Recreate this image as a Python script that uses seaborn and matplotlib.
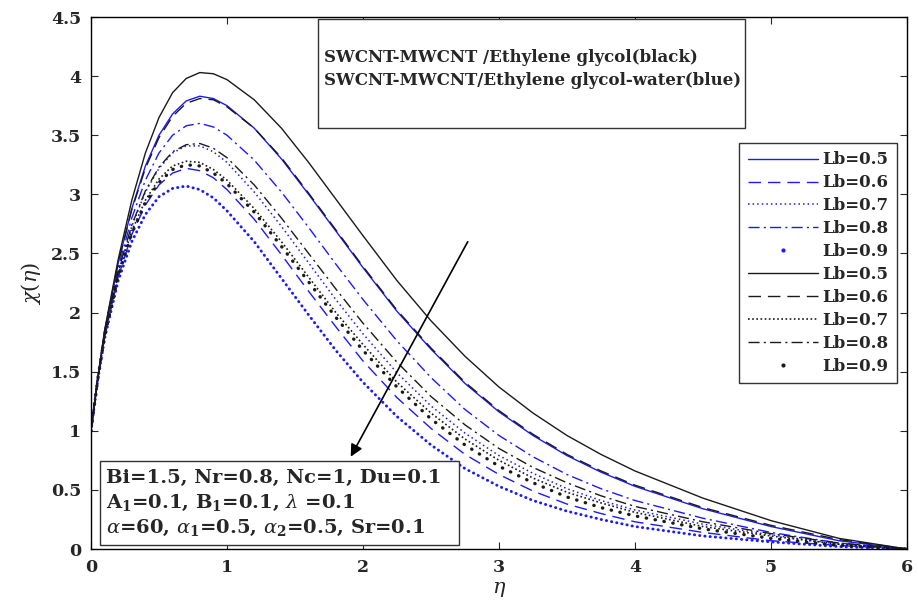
import matplotlib
matplotlib.use("Agg")
import matplotlib.pyplot as plt
from matplotlib.patches import Rectangle
from matplotlib.lines import Line2D
import seaborn as sns

eta = [0, 0.05, 0.1, 0.2, 0.3, 0.4, 0.5, 0.6, 0.7, 0.8, 0.9, 1.0, 1.2, 1.4, 1.6, 1.8,
       2.0, 2.25, 2.5, 2.75, 3.0, 3.25, 3.5, 3.75, 4.0, 4.5, 5.0, 5.5, 6.0]

# blue: SWCNT-MWCNT/Ethylene glycol-water
blue_05 = [1.00, 1.45, 1.84, 2.42, 2.88, 3.24, 3.50, 3.68, 3.79, 3.83, 3.81, 3.75, 3.56, 3.30, 3.00, 2.69,
           2.38, 2.01, 1.69, 1.40, 1.16, 0.96, 0.79, 0.65, 0.53, 0.34, 0.19, 0.07, 0.00]
blue_06 = [1.00, 1.43, 1.79, 2.30, 2.66, 2.91, 3.08, 3.18, 3.22, 3.20, 3.14, 3.04, 2.79, 2.49, 2.18, 1.88,
           1.59, 1.28, 1.02, 0.80, 0.63, 0.49, 0.38, 0.30, 0.23, 0.14, 0.07, 0.03, 0.00]
blue_07 = [1.00, 1.44, 1.81, 2.34, 2.73, 3.02, 3.22, 3.35, 3.41, 3.41, 3.36, 3.27, 3.02, 2.73, 2.42, 2.11,
           1.82, 1.49, 1.21, 0.98, 0.79, 0.64, 0.51, 0.41, 0.33, 0.21, 0.12, 0.04, 0.00]
blue_08 = [1.00, 1.44, 1.82, 2.38, 2.80, 3.12, 3.35, 3.50, 3.58, 3.60, 3.57, 3.50, 3.29, 3.02, 2.72, 2.41,
           2.11, 1.76, 1.45, 1.18, 0.96, 0.78, 0.63, 0.51, 0.41, 0.26, 0.14, 0.05, 0.00]
blue_09 = [1.00, 1.43, 1.78, 2.27, 2.60, 2.83, 2.98, 3.05, 3.07, 3.04, 2.97, 2.86, 2.60, 2.29, 1.98, 1.68,
           1.41, 1.12, 0.88, 0.68, 0.53, 0.41, 0.32, 0.25, 0.19, 0.11, 0.06, 0.02, 0.00]

# black: SWCNT-MWCNT/Ethylene glycol
black_05 = [1.00, 1.45, 1.85, 2.45, 2.95, 3.35, 3.65, 3.86, 3.98, 4.03, 4.02, 3.97, 3.80, 3.56, 3.27, 2.96,
            2.65, 2.27, 1.93, 1.63, 1.37, 1.15, 0.96, 0.80, 0.66, 0.43, 0.24, 0.09, 0.00]
black_06 = [1.00, 1.45, 1.84, 2.42, 2.87, 3.22, 3.48, 3.66, 3.77, 3.81, 3.80, 3.74, 3.56, 3.31, 3.01, 2.70,
            2.39, 2.02, 1.70, 1.41, 1.17, 0.97, 0.80, 0.66, 0.54, 0.35, 0.20, 0.08, 0.00]
black_07 = [1.00, 1.44, 1.80, 2.32, 2.69, 2.95, 3.13, 3.24, 3.28, 3.27, 3.21, 3.12, 2.88, 2.60, 2.30, 2.00,
            1.73, 1.41, 1.15, 0.93, 0.75, 0.60, 0.48, 0.39, 0.31, 0.19, 0.11, 0.04, 0.00]
black_08 = [1.00, 1.44, 1.81, 2.35, 2.74, 3.03, 3.23, 3.36, 3.42, 3.43, 3.39, 3.31, 3.08, 2.80, 2.50, 2.20,
            1.91, 1.58, 1.29, 1.05, 0.85, 0.69, 0.56, 0.45, 0.36, 0.23, 0.13, 0.05, 0.00]
black_09 = [1.00, 1.44, 1.80, 2.31, 2.67, 2.93, 3.10, 3.21, 3.25, 3.24, 3.18, 3.09, 2.85, 2.56, 2.26, 1.96,
            1.68, 1.37, 1.10, 0.88, 0.70, 0.56, 0.44, 0.35, 0.28, 0.17, 0.09, 0.03, 0.00]

lb_labels = ["Lb=0.5", "Lb=0.6", "Lb=0.7", "Lb=0.8", "Lb=0.9"]
x_ticks = [0, 1, 2, 3, 4, 5, 6]
y_ticks = [0, 0.5, 1, 1.5, 2, 2.5, 3, 3.5, 4, 4.5]
y_tick_labels = ["0", "0.5", "1", "1.5", "2", "2.5", "3", "3.5", "4", "4.5"]

sns.set_style("ticks")
plt.rcParams["font.family"] = ["DejaVu Serif"]
plt.rcParams["mathtext.fontset"] = "dejavuserif"

fig = plt.figure(figsize=(9.18, 6.02), dpi=100)
ax = fig.add_axes([91 / 918, 53 / 602, 816 / 918, 532 / 602])

BLUE = "#1a1aff"
BLACK = "#1a1a1a"
blue_styles = [
    dict(linestyle="-", linewidth=1.0),
    dict(linestyle=(0, (9, 5)), linewidth=1.0),
    dict(linestyle=(0, (1, 2)), linewidth=1.1),
    dict(linestyle=(0, (8, 3, 1.5, 3)), linewidth=1.0),
    dict(linestyle=(0, (0.1, 1.7)), linewidth=2.1, dash_capstyle="round"),
]
black_styles = [
    dict(linestyle="-", linewidth=1.0),
    dict(linestyle=(0, (9, 5)), linewidth=1.0),
    dict(linestyle=(0, (1, 1.5)), linewidth=1.2),
    dict(linestyle=(0, (8, 3, 1.5, 3)), linewidth=1.0),
    dict(linestyle=(0, (0.1, 2.6)), linewidth=2.4, dash_capstyle="round"),
]

blue_series = [blue_05, blue_06, blue_07, blue_08, blue_09]
black_series = [black_05, black_06, black_07, black_08, black_09]

for vals, st in zip(blue_series, blue_styles):
    sns.lineplot(x=eta, y=vals, ax=ax, color=BLUE, **st)
for vals, st in zip(black_series, black_styles):
    sns.lineplot(x=eta, y=vals, ax=ax, color=BLACK, **st)

handles = []
for col, sts in [(BLUE, blue_styles), (BLACK, black_styles)]:
    for st in sts[:4]:
        handles.append(Line2D([], [], color=col, **st))
    handles.append(Line2D([], [], color=col, linestyle="none", marker=".", markersize=4))

leg = ax.legend(handles, lb_labels + lb_labels, loc="upper right",
                bbox_to_anchor=(0.988, 0.763), borderaxespad=0.0, frameon=True, fancybox=False,
                handlelength=4.2, handletextpad=0.3, labelspacing=0.355,
                borderpad=0.5, prop=dict(weight="bold", size=12))
leg.get_frame().set_edgecolor("black")
leg.get_frame().set_linewidth(1.0)

ax.set_xlim(0, 6)
ax.set_ylim(0, 4.5)
ax.set_xticks(x_ticks)
ax.set_xticklabels([str(t) for t in x_ticks], fontweight="bold", fontsize=12.5)
ax.set_yticks(y_ticks)
ax.set_yticklabels(y_tick_labels, fontweight="bold", fontsize=12.5)
ax.tick_params(direction="in", top=True, right=True, length=5, width=0.8, pad=7)
for sp in ax.spines.values():
    sp.set_linewidth(1.0)
    sp.set_color("black")
    sp.set_visible(True)

ax.set_xlabel(r"$\eta$", fontsize=15, labelpad=3)
ax.set_ylabel(r"$\chi(\eta)$", fontsize=15, labelpad=6)

# arrow
ax.annotate("", xy=(1.90, 0.76), xytext=(2.78, 2.62),
            arrowprops=dict(arrowstyle="-|>", color="black", lw=1.2,
                            mutation_scale=18))

# top box
ax.add_patch(Rectangle((0.278, 0.791), 0.523, 0.205, transform=ax.transAxes,
                       fill=True, facecolor="white", edgecolor="#333333", lw=1.0, zorder=4))
ax.text(0.285, 0.924, "SWCNT-MWCNT /Ethylene glycol(black)", transform=ax.transAxes,
        fontsize=12, fontweight="bold", va="center", ha="left", zorder=5)
ax.text(0.285, 0.880, "SWCNT-MWCNT/Ethylene glycol-water(blue)", transform=ax.transAxes,
        fontsize=12, fontweight="bold", va="center", ha="left", zorder=5)

# bottom box
ax.add_patch(Rectangle((0.011, 0.008), 0.44, 0.157, transform=ax.transAxes,
                       fill=True, facecolor="white", edgecolor="#333333", lw=1.0, zorder=4))
ax.text(0.018, 0.133, "Bi=1.5, Nr=0.8, Nc=1, Du=0.1", transform=ax.transAxes,
        fontsize=14, fontweight="bold", va="center", ha="left", zorder=5)
ax.text(0.018, 0.087, r"A$_\mathbf{1}$=0.1, B$_\mathbf{1}$=0.1, $\lambda$ =0.1", transform=ax.transAxes,
        fontsize=14, fontweight="bold", va="center", ha="left", zorder=5)
ax.text(0.018, 0.040, r"$\alpha$=60, $\alpha_\mathbf{1}$=0.5, $\alpha_\mathbf{2}$=0.5, Sr=0.1",
        transform=ax.transAxes, fontsize=14, fontweight="bold", va="center", ha="left", zorder=5)

fig.savefig("out.png", dpi=100, facecolor="white")
